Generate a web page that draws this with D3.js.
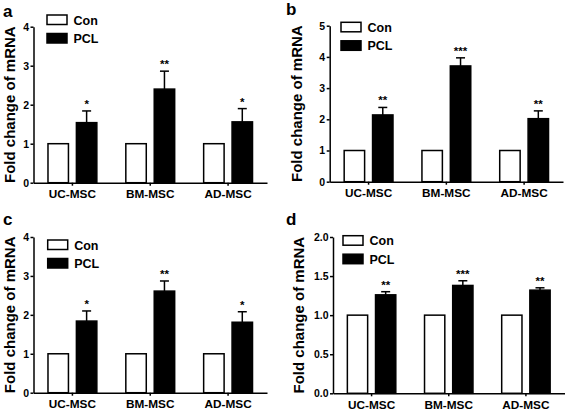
<!DOCTYPE html>
<html>
<head>
<meta charset="utf-8">
<script src="https://cdn.jsdelivr.net/npm/d3@7"></script>
<style>
  html, body { margin: 0; padding: 0; background: #fff; }
  svg text { font-family: "Liberation Sans", Arial, sans-serif; font-weight: bold; }
</style>
</head>
<body>
<svg id="chart" width="567" height="411"></svg>
<script>
// ---- data ----
const categories = ["UC-MSC", "BM-MSC", "AD-MSC"];
const seriesNames = ["Con", "PCL"];
const yTitle = "Fold change of mRNA";
const panelLetters = ["a", "b", "c", "d"];

const conA = [1, 1, 1];
const pclA = [1.54, 2.40, 1.56];
const errA = [0.30, 0.46, 0.34];
const sigA = ["*", "**", "*"];
const ticksA = [0, 1, 2, 3, 4];

const conB = [1, 1, 1];
const pclB = [2.14, 3.71, 2.02];
const errB = [0.24, 0.26, 0.25];
const sigB = ["**", "***", "**"];
const ticksB = [0, 1, 2, 3, 4, 5];

const conC = [1, 1, 1];
const pclC = [1.84, 2.61, 1.81];
const errC = [0.26, 0.26, 0.27];
const sigC = ["*", "**", "*"];
const ticksC = [0, 1, 2, 3, 4];

const conD = [1, 1, 1];
const pclD = [1.26, 1.38, 1.32];
const errD = [0.04, 0.06, 0.03];
const sigD = ["**", "***", "**"];
const ticksD = [0, 0.5, 1.0, 1.5, 2.0];

// ---- layout ----
const panels = [
  {letter: panelLetters[0], con: conA, pcl: pclA, err: errA, sig: sigA, ticks: ticksA, fmt: d3.format("d"),
   x0: 33.5, x1: 267, yTop: 26.7, yBot: 182.7, letterX: 3, letterY: 17, titleX: 15, legX: 47, legY: 15},
  {letter: panelLetters[1], con: conB, pcl: pclB, err: errB, sig: sigB, ticks: ticksB, fmt: d3.format("d"),
   x0: 329.7, x1: 563, yTop: 25.7, yBot: 181.7, letterX: 286, letterY: 15, titleX: 302, legX: 341, legY: 22.3},
  {letter: panelLetters[2], con: conC, pcl: pclC, err: errC, sig: sigC, ticks: ticksC, fmt: d3.format("d"),
   x0: 33.5, x1: 267, yTop: 237, yBot: 392.7, letterX: 3, letterY: 225, titleX: 15, legX: 47.7, legY: 240},
  {letter: panelLetters[3], con: conD, pcl: pclD, err: errD, sig: sigD, ticks: ticksD, fmt: d3.format(".1f"),
   x0: 333, x1: 564.5, yTop: 237, yBot: 393.3, letterX: 286, letterY: 225, titleX: 303.5, legX: 343, legY: 235.7}
];

const svg = d3.select("#chart");
const fills = {Con: "#ffffff", PCL: "#000000"};

panels.forEach(p => {
  const g = svg.append("g");
  const yMax = p.ticks[p.ticks.length - 1];
  const x = d3.scaleBand().domain(categories).range([p.x0, p.x1]).paddingInner(0).paddingOuter(0);
  const xs = d3.scaleBand().domain(seriesNames).range([0, x.bandwidth()]).paddingInner(0.28).paddingOuter(0.51);
  const y = d3.scaleLinear().domain([0, yMax]).range([p.yBot, p.yTop]);

  // bars
  const rows = categories.map((c, i) => ({cat: c, Con: p.con[i], PCL: p.pcl[i], err: p.err[i], sig: p.sig[i]}));
  rows.forEach(r => {
    seriesNames.forEach(s => {
      g.append("rect")
        .attr("x", x(r.cat) + xs(s))
        .attr("y", y(r[s]))
        .attr("width", xs.bandwidth())
        .attr("height", y(0) - y(r[s]))
        .attr("fill", fills[s])
        .attr("stroke", "#000")
        .attr("stroke-width", 1.5);
    });
    // error bar (upward only)
    const cx = x(r.cat) + xs("PCL") + xs.bandwidth() / 2;
    const yt = y(r.PCL + r.err);
    g.append("line").attr("x1", cx).attr("x2", cx).attr("y1", y(r.PCL)).attr("y2", yt)
      .attr("stroke", "#000").attr("stroke-width", 1.5);
    g.append("line").attr("x1", cx - 4.5).attr("x2", cx + 4.5).attr("y1", yt).attr("y2", yt)
      .attr("stroke", "#000").attr("stroke-width", 1.5);
    g.append("text").attr("x", cx).attr("y", yt - 3)
      .attr("text-anchor", "middle").attr("font-size", 11.5).text(r.sig);
  });

  // axes
  const yAxis = d3.axisLeft(y).tickValues(p.ticks).tickFormat(p.fmt).tickSize(3).tickPadding(1.5).tickSizeOuter(0);
  const ya = g.append("g").attr("transform", `translate(${p.x0},0)`).call(yAxis);
  const xAxis = d3.axisBottom(x).tickSize(3).tickPadding(4).tickSizeOuter(0);
  const xa = g.append("g").attr("transform", `translate(0,${p.yBot})`).call(xAxis);
  [ya, xa].forEach(a => {
    a.select(".domain").attr("stroke", "#000").attr("stroke-width", 1.5);
    a.selectAll(".tick line").attr("stroke", "#000").attr("stroke-width", 1.5);
    a.selectAll("text").attr("fill", "#000").attr("font-family", "Liberation Sans, Arial, sans-serif").attr("font-weight", "bold");
  });
  ya.selectAll("text").attr("font-size", 10.5);
  xa.selectAll("text").attr("font-size", 11.8);

  // y title
  g.append("text")
    .attr("transform", `translate(${p.titleX},${(p.yTop + p.yBot) / 2}) rotate(-90)`)
    .attr("text-anchor", "middle").attr("font-size", 15).text(yTitle);

  // panel letter
  g.append("text").attr("x", p.letterX).attr("y", p.letterY).attr("font-size", 17).text(p.letter);

  // legend
  seriesNames.forEach((s, i) => {
    const ly = p.legY + i * 18.5;
    g.append("rect").attr("x", p.legX).attr("y", ly).attr("width", 20).attr("height", 9.5)
      .attr("fill", fills[s]).attr("stroke", "#000").attr("stroke-width", 1.5);
    g.append("text").attr("x", p.legX + 26.5).attr("y", ly + 9.5).attr("font-size", 12.5).text(s);
  });
});
</script>
</body>
</html>
